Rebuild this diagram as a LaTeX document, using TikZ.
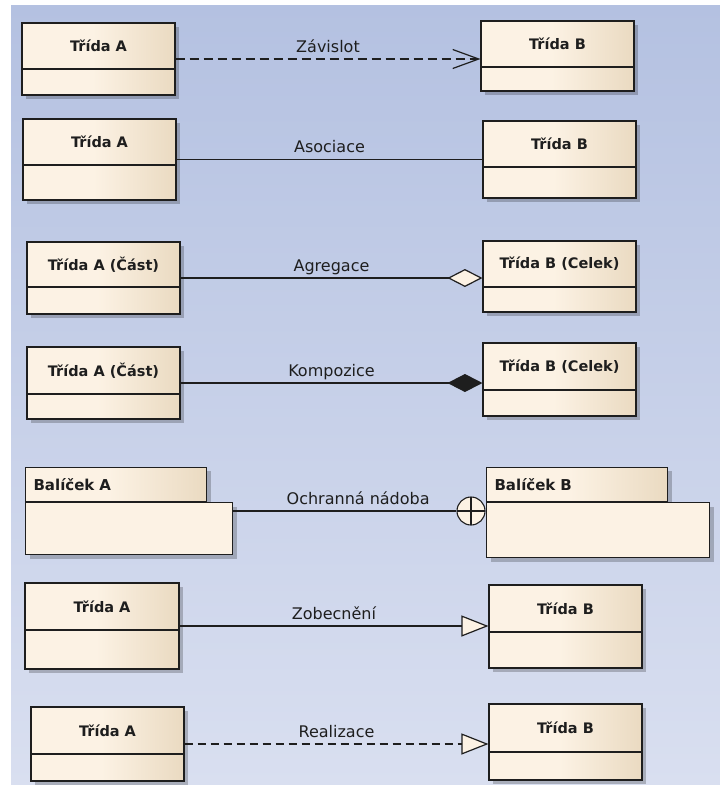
\documentclass[tikz,border=0pt]{standalone}
\usepackage{fontspec}
\setmainfont{DejaVu Sans}
\usetikzlibrary{arrows.meta,shadows,calc}
\definecolor{bgtop}{HTML}{B4C1E1}
\definecolor{bgbot}{HTML}{D9DFF0}
\definecolor{cream}{HTML}{FCF2E4}
\definecolor{boxtan}{HTML}{EADAC1}
\definecolor{ink}{HTML}{1E1E1E}
\pgfdeclarehorizontalshading{classfill}{100bp}{color(0bp)=(cream); color(25bp)=(cream); color(48bp)=(cream); color(75bp)=(boxtan); color(100bp)=(boxtan)}

\begin{document}
\begin{tikzpicture}[
    x=1pt, y=-1pt, ink,
    boxshadow/.style={drop shadow={shadow xshift=4pt, shadow yshift=-4pt, fill=black, opacity=0.22}},
    classbox/.style={draw=ink, line width=1.1pt, shade, shading=classfill, inner sep=0pt, boxshadow},
    classname/.style={font=\bfseries\fontsize{14.5}{17}\selectfont},
    pkgtab/.style={classbox, anchor=south west, inner xsep=8pt, text width=165pt, align=left, font=\bfseries\fontsize{15}{18}\selectfont},
    pkgbody/.style={draw=ink, line width=1.1pt, fill=cream, inner sep=0pt, anchor=north west, boxshadow},
    reltext/.style={font=\fontsize{16}{19}\selectfont, anchor=base, yshift=7pt},
    link/.style={line width=1.2pt, draw=ink},
    dashlink/.style={link, dash pattern=on 9pt off 5pt},
    nestmark/.style={circle, draw=ink, line width=1.1pt, fill=cream, minimum size=28pt, inner sep=0pt,
      path picture={\draw[ink, line width=1.1pt] (path picture bounding box.north) -- (path picture bounding box.south)
        (path picture bounding box.west) -- (path picture bounding box.east);}},
  ]
\useasboundingbox (0,0) rectangle (720,785);

% --- background ---------------------------------------------------------------
\fill[white] (0,0) rectangle (720,785);
\shade[top color=bgtop, bottom color=bgbot] (11,5) rectangle (720,785);

% --- classes: name/left/top/right/bottom/divider/text ---------------------------
\foreach \n/\l/\t/\r/\b/\d/\txt in {
    a1/22/23/175/95/69/{Třída A},
    b1/481/21/634/91/67/{Třída B},
    a2/23/119/176/200/165/{Třída A},
    b2/483/121/636/198/167/{Třída B},
    a3/27/242/180/314/287/{Třída A (Část)},
    b3/483/241/636/312/287/{Třída B (Celek)},
    a4/27/347/180/419/394/{Třída A (Část)},
    b4/483/343/636/416/390/{Třída B (Celek)},
    a6/25/583/179/669/630/{Třída A},
    b6/489/585/642/668/632/{Třída B},
    a7/31/707/184/781/754/{Třída A},
    b7/489/704/642/780/752/{Třída B}} {
  \node[classbox, minimum width={(\r-\l)*1pt}, minimum height={(\b-\t)*1pt}] (\n) at ({(\l+\r)/2},{(\t+\b)/2}) {};
  \draw[ink, line width=1.1pt] (\n.west |- 0,\d) -- (\n.east |- 0,\d);
  \node[classname] (\n-name) at ({(\l+\r)/2},{(\t+\d)/2}) {\txt};
}

% --- packages -------------------------------------------------------------------
\node[pkgtab, minimum width=181pt, minimum height=34pt] (pa-tab) at (25,502) {Balíček A};
\node[pkgbody, minimum width=207pt, minimum height=52pt] (pa) at (pa-tab.south west) {};
\node[pkgtab, minimum width=179pt, minimum height=34pt] (pb-tab) at (486,502) {Balíček B};
\node[pkgbody, minimum width=223pt, minimum height=55pt] (pb) at (pb-tab.south west) {};

% --- relations -------------------------------------------------------------------
\draw[dashlink, -{Straight Barb[length=26pt, width=19pt]}] (a1.east) -- node[reltext] {Závislot} (a1.east -| b1.west);
\draw[link] (a2.east) -- node[reltext] {Asociace} (a2.east -| b2.west);
\draw[link, -{Diamond[length=35pt, width=18pt, fill=cream]}] (a3.east) -- node[reltext] {Agregace} (a3.east -| b3.west);
\draw[link, -{Diamond[length=35pt, width=18pt]}] (a4.east) -- node[reltext] {Kompozice} (a4.east -| b4.west);
\node[nestmark] (nest) at (471,511) {};
\draw[link] (pa.east |- nest) -- node[reltext, pos=0.56] {Ochranná nádoba} (nest);
\draw[link, -{Triangle[length=27pt, width=21pt, fill=cream]}] (a6.east) -- node[reltext] {Zobecnění} (a6.east -| b6.west);
\draw[dashlink, dash pattern=on 8pt off 5pt, -{Triangle[length=27pt, width=21pt, fill=cream]}] (a7.east) -- node[reltext] {Realizace} (a7.east -| b7.west);

\end{tikzpicture}
\end{document}
